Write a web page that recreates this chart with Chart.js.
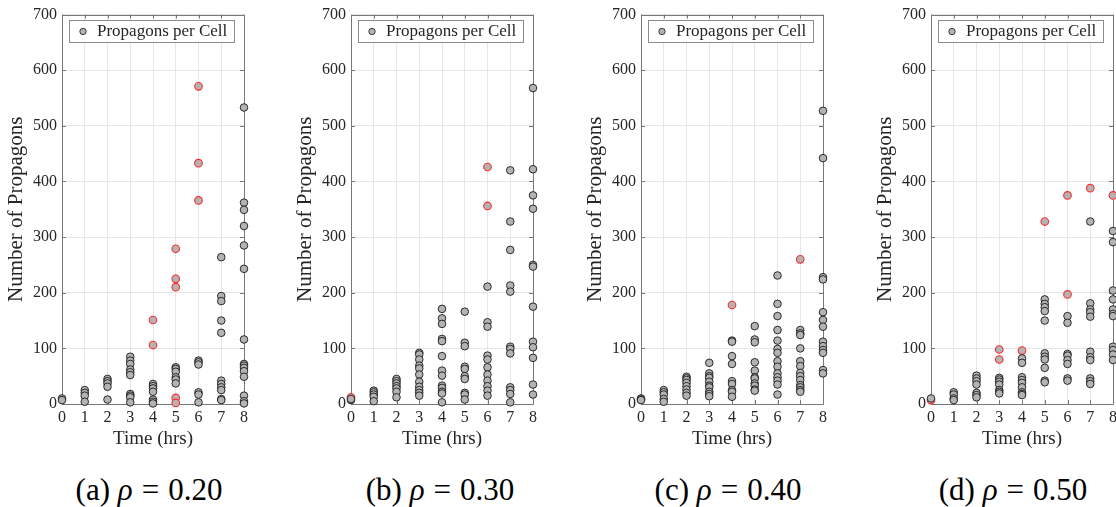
<!DOCTYPE html>
<html>
<head>
<meta charset="utf-8">
<script src="https://cdn.jsdelivr.net/npm/chart.js@4/dist/chart.umd.min.js"></script>
<style>
  html, body { margin: 0; padding: 0; background: #fff; width: 1116px; height: 507px; overflow: hidden; }
  .panel { position: absolute; top: 0; }
  .caption { position: absolute; top: 472px; width: 260px; margin-left: -130px; text-align: center;
    font-family: "Liberation Serif", "Times New Roman", serif; font-size: 31px; line-height: 36px; color: #000; white-space: nowrap; }
  .caption .eq { margin: 0 9px; }
</style>
</head>
<body>
<div class="panel" style="left:0px"><canvas id="c0" width="280" height="460"></canvas></div>
<div class="panel" style="left:289px"><canvas id="c1" width="280" height="460"></canvas></div>
<div class="panel" style="left:579px"><canvas id="c2" width="280" height="460"></canvas></div>
<div class="panel" style="left:869px"><canvas id="c3" width="280" height="460"></canvas></div>
<div id="caps"></div>
<script>
// ---- data ----
const hours = [0, 1, 2, 3, 4, 5, 6, 7, 8];
const rhoLabels = ["0.20", "0.30", "0.40", "0.50"];
const panelLetters = ["(a)", "(b)", "(c)", "(d)"];
const captionCenters = [149, 440, 728, 1013];
const seriesLabel = "Propagons per Cell";
const xTitle = "Time (hrs)";
const yTitle = "Number of Propagons";

// values per hour (index = hour), black-edged markers
const rho020_black = [
  [10, 7], [25, 20, 15, 4], [45, 41, 37, 31, 8], [85, 78, 72, 62, 57, 52, 18, 15, 12, 3],
  [36, 32, 28, 22, 8, 4, 1], [66, 63, 58, 48, 44, 37], [78, 75, 71, 21, 17, 3],
  [264, 194, 185, 150, 128, 42, 36, 30, 25, 9, 7],
  [533, 362, 349, 320, 285, 243, 116, 72, 69, 65, 59, 49, 15, 5, 1]
];
// red-edged markers
const rho020_red = [[], [], [], [], [151, 106], [279, 225, 210, 11, 2], [571, 433, 366], [], []];

const rho030_black = [
  [7, 9], [24, 21, 17, 13, 5], [45, 41, 37, 32, 28, 22, 12],
  [92, 89, 80, 69, 64, 53, 40, 31, 25, 20, 15],
  [171, 154, 144, 117, 113, 86, 60, 51, 33, 29, 22, 19, 3],
  [166, 110, 104, 67, 63, 50, 45, 20, 17, 8],
  [211, 147, 139, 87, 80, 66, 53, 42, 32, 24, 15],
  [420, 328, 277, 213, 202, 103, 99, 91, 30, 25, 18, 3],
  [568, 422, 375, 351, 250, 247, 175, 112, 102, 83, 35, 17]
];
const rho030_red = [[12], [], [], [], [], [], [426, 356], [], []];

const rho040_black = [
  [10, 8, 7], [25, 21, 17, 9, 4], [49, 46, 43, 38, 32, 26, 20, 15],
  [74, 55, 50, 47, 40, 33, 30, 22, 18, 14],
  [114, 112, 86, 72, 41, 36, 25, 22, 13],
  [140, 116, 111, 75, 60, 48, 46, 37, 33, 26, 24],
  [231, 180, 158, 133, 114, 99, 92, 77, 67, 55, 48, 42, 35, 17],
  [133, 127, 124, 100, 77, 68, 56, 50, 43, 34, 30, 25, 22],
  [527, 442, 228, 224, 165, 151, 139, 112, 104, 97, 92, 61, 55]
];
const rho040_red = [[], [], [], [], [178], [], [], [260], []];

const rho050_black = [
  [10], [21, 17, 10, 7], [51, 46, 41, 35, 20, 16, 12], [47, 44, 40, 35, 25, 22, 19],
  [82, 74, 48, 43, 38, 30, 21, 18, 16],
  [188, 180, 174, 167, 150, 91, 85, 80, 65, 42, 39],
  [158, 146, 90, 87, 79, 72, 46, 42],
  [328, 181, 170, 165, 157, 94, 84, 79, 46, 41, 36],
  [311, 291, 204, 188, 170, 162, 158, 103, 97, 89, 79]
];
const rho050_red = [[7], [], [], [98, 80], [96], [328], [375, 197], [388], [375]];

const panelsBlack = [rho020_black, rho030_black, rho040_black, rho050_black];
const panelsRed = [rho020_red, rho030_red, rho040_red, rho050_red];

// ---- styling ----
const FONT = '"Liberation Serif", "Times New Roman", serif';
const TEXT = '#262626';
const AXIS = '#777777';
const GRID = '#e6e6e6';
const FILL = '#b3b3b3';

function toPoints(perHour) {
  const pts = [];
  perHour.forEach((vals, i) => vals.forEach(v => pts.push({ x: hours[i], y: v })));
  return pts;
}

const framePlugin = {
  id: 'frame',
  beforeDatasetsDraw(chart) {
    const { ctx, chartArea: a, scales } = chart;
    ctx.save();
    ctx.strokeStyle = AXIS;
    ctx.lineWidth = 1;
    ctx.beginPath();
    ctx.rect(Math.round(a.left) + 0.5, Math.round(a.top) + 0.5, Math.round(a.right - a.left), Math.round(a.bottom - a.top));
    ctx.stroke();
    const tl = 4;
    ctx.beginPath();
    scales.y.ticks.forEach(t => {
      const y = Math.round(scales.y.getPixelForValue(t.value)) + 0.5;
      ctx.moveTo(a.left, y); ctx.lineTo(a.left + tl, y);
      ctx.moveTo(a.right, y); ctx.lineTo(a.right - tl, y);
    });
    scales.x.ticks.forEach(t => {
      const x = Math.round(scales.x.getPixelForValue(t.value)) + 0.5;
      ctx.moveTo(x, a.bottom); ctx.lineTo(x, a.bottom - tl);
      ctx.moveTo(x, a.top); ctx.lineTo(x, a.top + tl);
    });
    ctx.stroke();
    ctx.restore();
  },
  afterDatasetsDraw(chart) {
    // legend box inside the axes, top-right
    const { ctx, chartArea: a } = chart;
    const ds = chart.data.datasets[0];
    const left = Math.round(a.left) + 7, right = Math.round(a.right) - 10;
    const top = Math.round(a.top) + 5, bottom = Math.round(a.top) + 27;
    ctx.save();
    ctx.fillStyle = '#ffffff';
    ctx.fillRect(left, top, right - left, bottom - top);
    ctx.strokeStyle = '#8c8c8c';
    ctx.lineWidth = 1;
    ctx.strokeRect(left + 0.5, top + 0.5, right - left, bottom - top);
    const cy = (top + bottom) / 2 + 0.5;
    ctx.beginPath();
    ctx.arc(left + 14, cy, 3.2, 0, Math.PI * 2);
    ctx.fillStyle = ds.pointBackgroundColor;
    ctx.fill();
    ctx.lineWidth = 0.8;
    ctx.strokeStyle = ds.pointBorderColor;
    ctx.stroke();
    ctx.fillStyle = TEXT;
    ctx.font = '17px ' + FONT;
    ctx.textBaseline = 'middle';
    ctx.textAlign = 'left';
    ctx.fillText(ds.label, left + 28, cy);
    ctx.restore();
  }
};

panelsBlack.forEach((blk, p) => {
  const ctx = document.getElementById('c' + p);
  new Chart(ctx, {
    type: 'scatter',
    data: {
      datasets: [
        { label: seriesLabel, data: toPoints(blk), pointRadius: 3.8, pointBorderWidth: 0.9,
          pointBackgroundColor: FILL, pointBorderColor: '#1a1a1a', clip: false },
        { label: seriesLabel + ' (outlier)', data: toPoints(panelsRed[p]), pointRadius: 3.8, pointBorderWidth: 1.1,
          pointBackgroundColor: FILL, pointBorderColor: '#ff2a2a', clip: false }
      ]
    },
    options: {
      responsive: false,
      animation: false,
      events: [],
      layout: { padding: { left: 0, top: 14, right: 36, bottom: 0 } },
      plugins: { legend: { display: false }, tooltip: { enabled: false } },
      scales: {
        x: {
          type: 'linear', min: 0, max: 8,
          afterFit: s => { s.height = 56; },
          ticks: { stepSize: 1, padding: 4, color: TEXT, font: { family: FONT, size: 16 } },
          grid: { color: GRID, drawTicks: false },
          border: { display: false },
          title: { display: true, text: xTitle, color: TEXT, font: { family: FONT, size: 19 }, padding: { top: 0, bottom: 10 } }
        },
        y: {
          type: 'linear', min: 0, max: 700,
          afterFit: s => { s.width = 62; },
          ticks: { stepSize: 100, padding: 5, color: TEXT, font: { family: FONT, size: 16 } },
          grid: { color: GRID, drawTicks: false },
          border: { display: false },
          title: { display: true, text: yTitle, color: TEXT, font: { family: FONT, size: 21 }, padding: { top: 4, bottom: 0 } }
        }
      }
    },
    plugins: [framePlugin]
  });
});

// captions
const caps = document.getElementById('caps');
panelLetters.forEach((l, i) => {
  const d = document.createElement('div');
  d.className = 'caption';
  d.style.left = captionCenters[i] + 'px';
  d.innerHTML = l + ' <i>ρ</i><span class="eq">=</span>' + rhoLabels[i];
  caps.appendChild(d);
});
</script>
</body>
</html>
